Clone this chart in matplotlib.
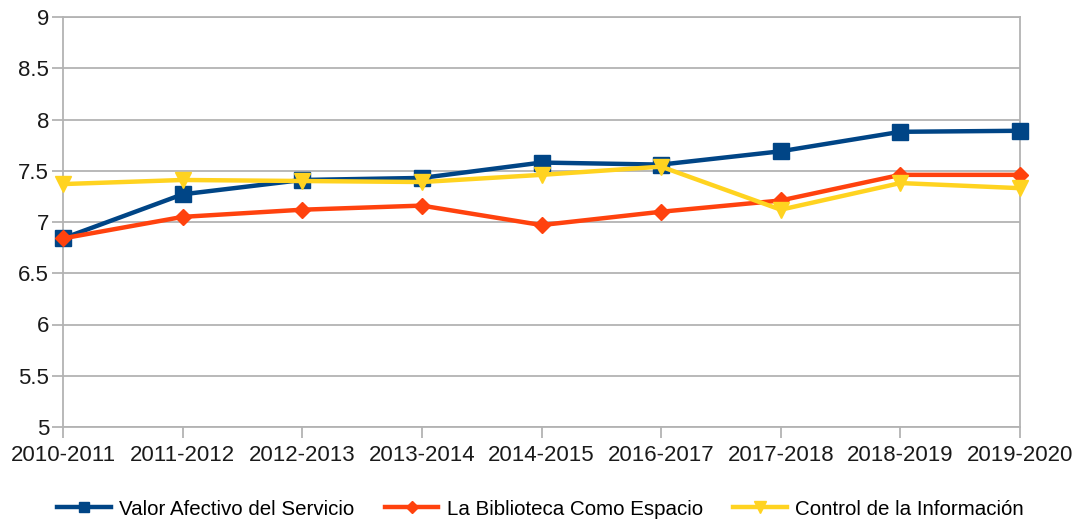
import matplotlib.pyplot as plt

plt.rcParams['font.family'] = ['Liberation Sans', 'DejaVu Sans']

# Data
cursos = ['2010-2011', '2011-2012', '2012-2013', '2013-2014', '2014-2015',
          '2016-2017', '2017-2018', '2018-2019', '2019-2020']
valor_afectivo = [6.84, 7.27, 7.41, 7.43, 7.58, 7.56, 7.69, 7.88, 7.89]
biblioteca_espacio = [6.84, 7.05, 7.12, 7.16, 6.97, 7.10, 7.21, 7.46, 7.46]
control_info = [7.37, 7.41, 7.40, 7.39, 7.46, 7.54, 7.12, 7.38, 7.33]

fig = plt.figure(figsize=(10.81, 5.24), dpi=100)
ax = fig.add_axes([63 / 1081, 1 - 427 / 524, (1020 - 63) / 1081, (427 - 17) / 524])

x = range(len(cursos))
ax.plot(x, valor_afectivo, color='#004586', lw=3.2, marker='s', ms=11,
        label='Valor Afectivo del Servicio', zorder=3, clip_on=False)
ax.plot(x, biblioteca_espacio, color='#ff420e', lw=3.2, marker='D', ms=8.5,
        label='La Biblioteca Como Espacio', zorder=4, clip_on=False)
ax.plot(x, control_info, color='#ffd320', lw=3.2, marker='v', ms=12,
        label='Control de la Información', zorder=5, clip_on=False)

ax.set_xlim(0, len(cursos) - 1)
ax.set_ylim(5, 9)
ax.set_yticks([5, 5.5, 6, 6.5, 7, 7.5, 8, 8.5, 9])
ax.set_yticklabels(['5', '5.5', '6', '6.5', '7', '7.5', '8', '8.5', '9'])
ax.set_xticks(list(x))
ax.set_xticklabels(cursos)
ax.grid(axis='y', color='#b3b3b3', lw=1.3)
ax.set_axisbelow(True)
for s in ax.spines.values():
    s.set_color('#b3b3b3')
    s.set_linewidth(1.3)
ax.tick_params(axis='both', colors='#b3b3b3', labelcolor='#1a1a1a',
               labelsize=16, length=8, width=1.3)
ax.tick_params(axis='y', pad=2)
ax.tick_params(axis='x', pad=5)

fig.legend(loc='lower center', bbox_to_anchor=(0.5, -0.025), ncol=3,
           frameon=False, fontsize=14.8, handlelength=2.6, columnspacing=1.5,
           handletextpad=0.4, markerscale=0.7)

fig.savefig('out.png', dpi=100)
